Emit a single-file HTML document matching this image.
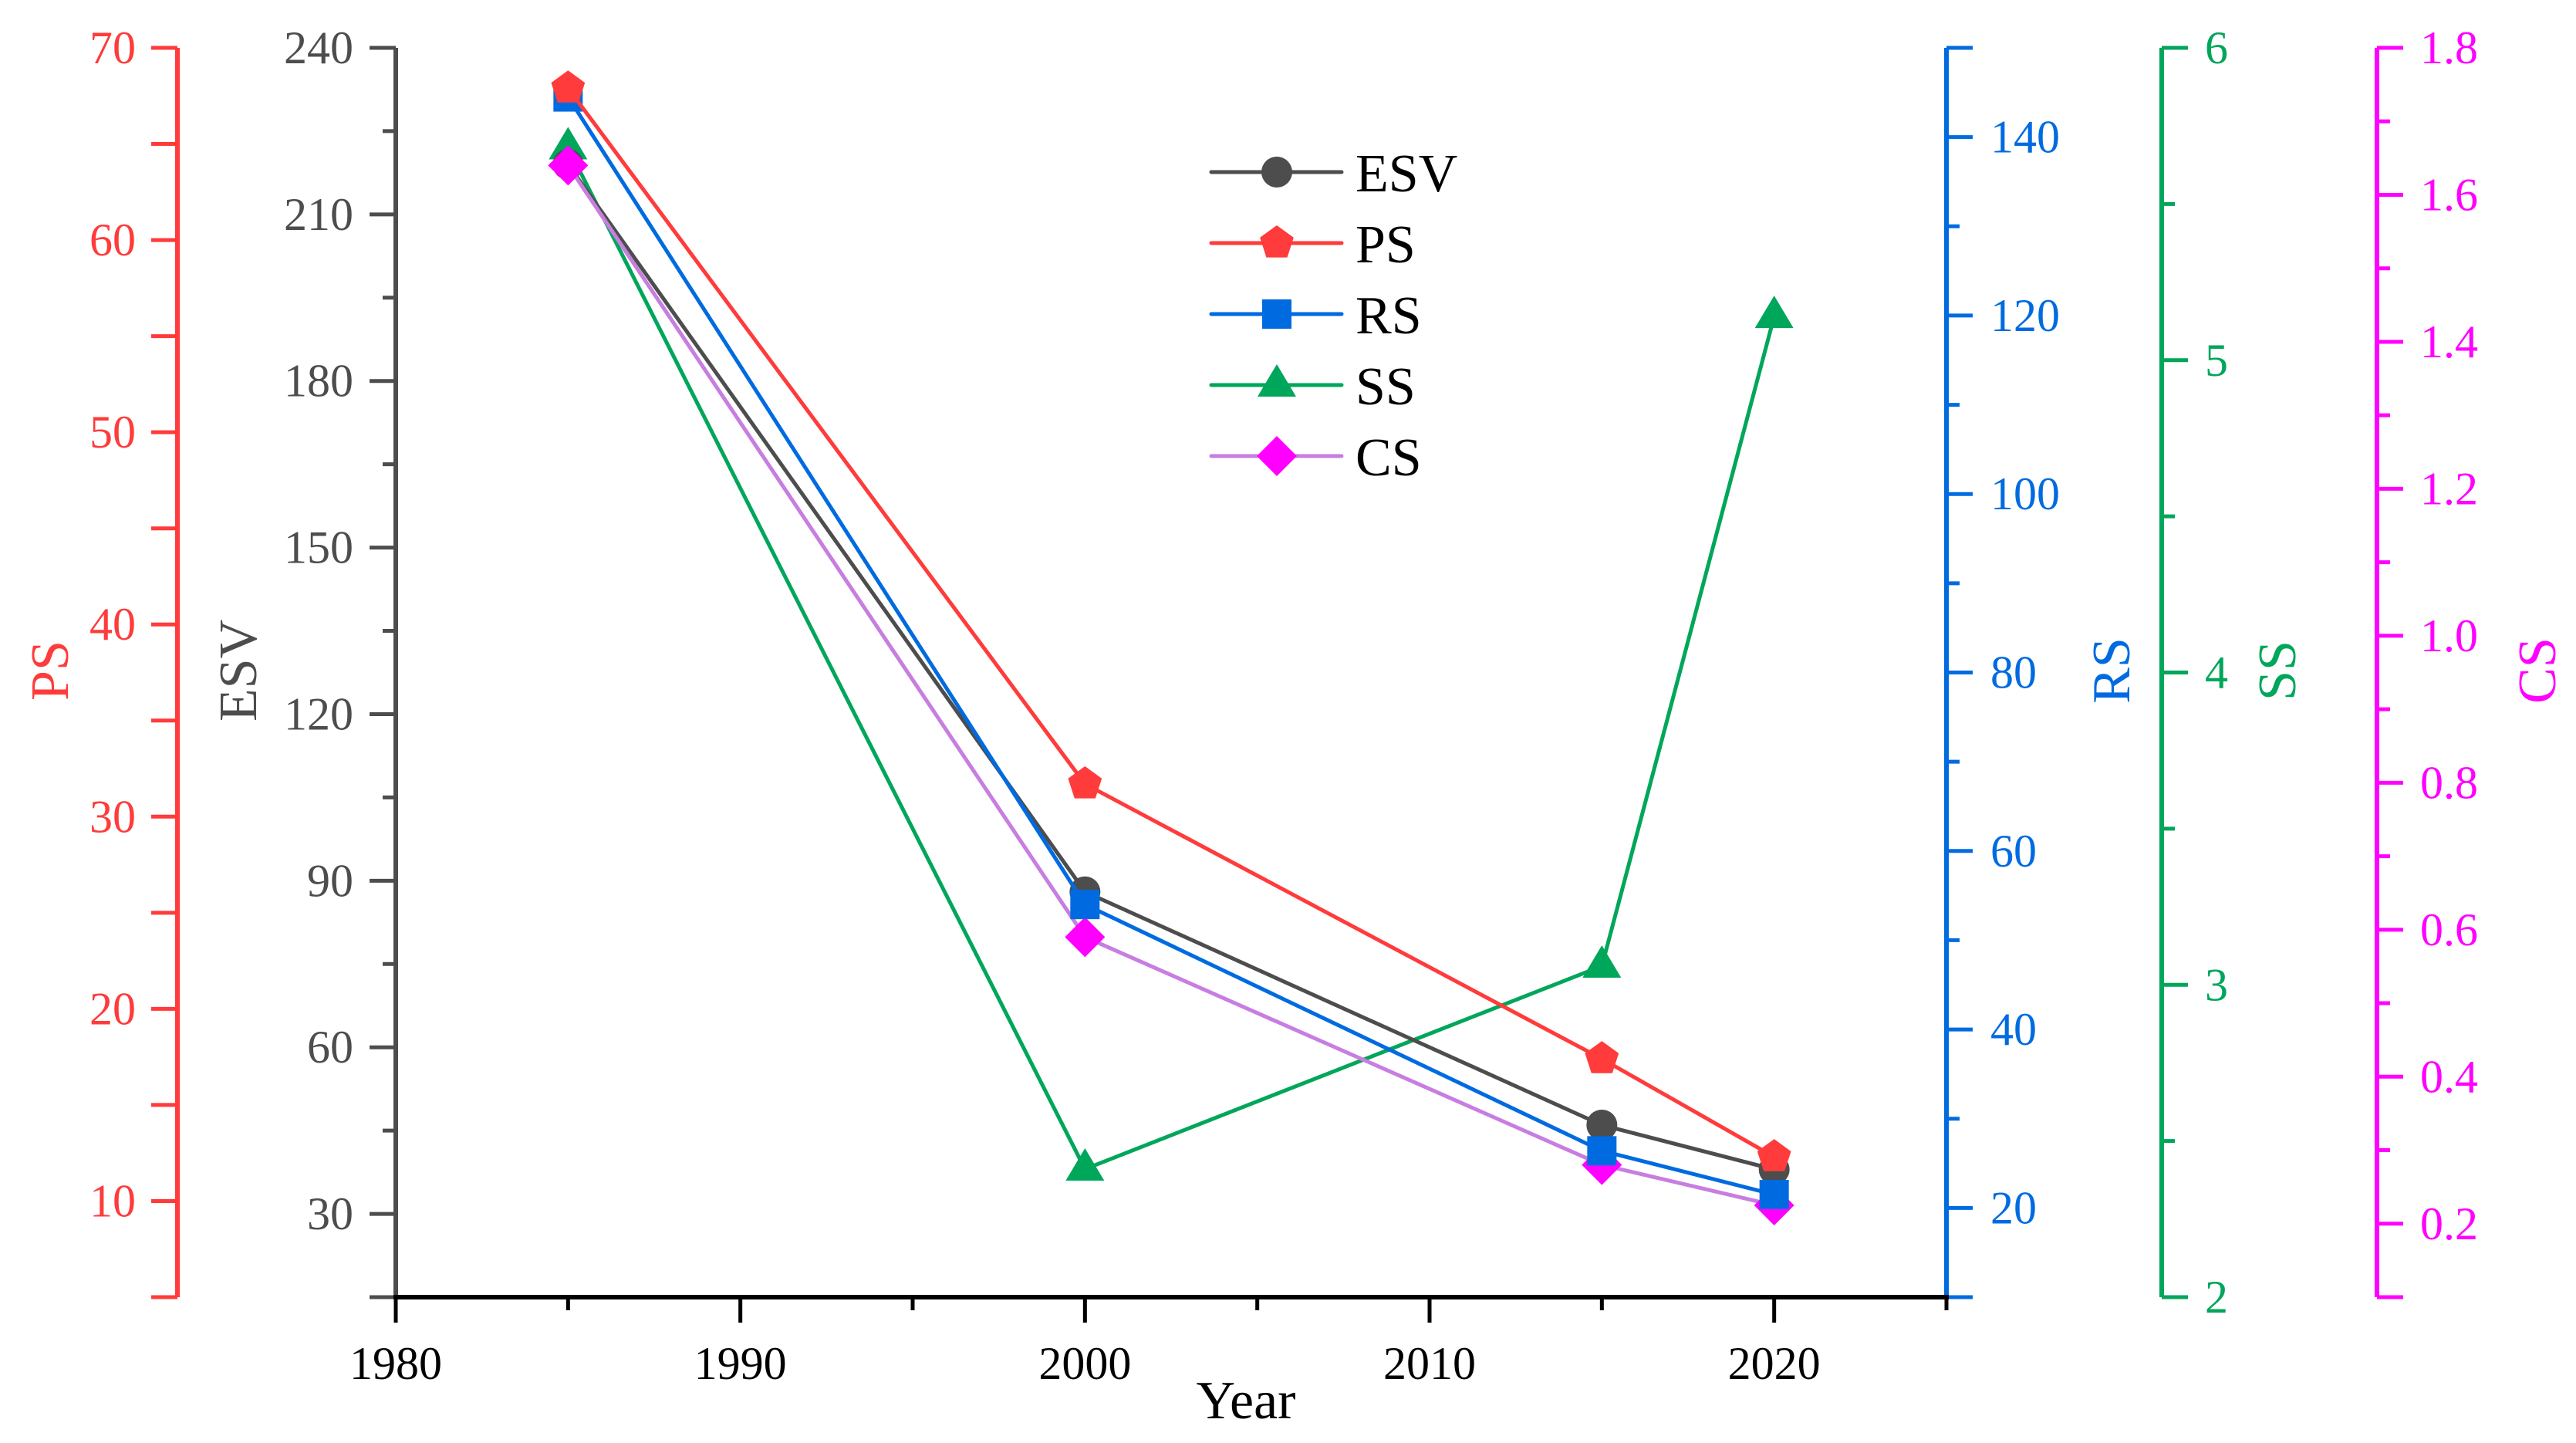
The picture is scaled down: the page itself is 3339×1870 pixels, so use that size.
<!DOCTYPE html>
<html><head><meta charset="utf-8"><style>
html,body{margin:0;padding:0;background:#fff;}
svg{display:block;font-family:"Liberation Serif",serif;}
</style></head><body>
<svg id="chart" width="3339" height="1870" viewBox="0 0 3339 1870" xmlns="http://www.w3.org/2000/svg"></svg>
<script>
const years = [1985, 2000, 2015, 2020];
const esvValues = [219, 88, 46, 38];
const psValues = [67.9, 31.7, 17.4, 12.3];
const rsValues = [144.5, 54, 26.4, 21.5];
const ssValues = [5.68, 2.41, 3.06, 5.14];
const csValues = [1.64, 0.59, 0.28, 0.225];
const xTicks = [1980, 1990, 2000, 2010, 2020];
const esvTicks = [30, 60, 90, 120, 150, 180, 210, 240];
const psTicks = [10, 20, 30, 40, 50, 60, 70];
const rsTicks = [20, 40, 60, 80, 100, 120, 140];
const ssTicks = [2, 3, 4, 5, 6];
const csTicks = [0.2, 0.4, 0.6, 0.8, 1.0, 1.2, 1.4, 1.6, 1.8];

const NS = "http://www.w3.org/2000/svg";
const svg = document.getElementById('chart');
const TOP = 62, BOT = 1681, X0 = 513, X1 = 2523;
function mk(tag, attrs, parent) {
  const e = document.createElementNS(NS, tag);
  for (const k in attrs) e.setAttribute(k, attrs[k]);
  (parent || svg).appendChild(e);
  return e;
}
const xScale = v => X0 + (v - 1980) / (2025 - 1980) * (X1 - X0);
function yScale(min, max) { return v => BOT - (v - min) / (max - min) * (BOT - TOP); }
const yESV = yScale(15, 240), yPS = yScale(5, 70), yRS = yScale(10, 150), ySS = yScale(2, 6), yCS = yScale(0.1, 1.8);

const C = {esv: '#4d4d4d', ps: '#ff3b3b', rs: '#006be0', ss: '#00a65a', csLine: '#c77ee0', cs: '#ff00ff'};

function axis(name, x, scale, ticks, minorStep, min, max, color, side, fmt, labelX, anchor, title, titleX) {
  const g = mk('g', {});
  
  
  mk('line', {x1: x, y1: TOP, x2: x, y2: BOT, stroke: color, 'stroke-width': 6}, g);
  const dir = side === 'left' ? -1 : 1;
  for (let v = min; v <= max + 1e-9; v += minorStep) {
    const y = scale(v);
    const isMajor = ticks.some(t => Math.abs(t - v) < 1e-6);
    const len = isMajor ? 34 : (name === 'ps-axis' ? 34 : 17);
    const t = mk('line', {x1: x, y1: y, x2: x + dir * len, y2: y, stroke: color, 'stroke-width': 5}, g);
    
    
  }
  mk('line', {x1: x, y1: TOP, x2: x + dir * 34, y2: TOP, stroke: color, 'stroke-width': 5}, g);
  mk('line', {x1: x, y1: BOT, x2: x + dir * 34, y2: BOT, stroke: color, 'stroke-width': 5}, g);
  ticks.forEach(v => {
    const t = mk('text', {x: labelX, y: scale(v) + 20, 'font-size': 60, fill: color, 'text-anchor': anchor}, g);
    t.textContent = fmt(v);
    
    
  });
  const tt = mk('text', {x: titleX, y: 869, 'font-size': 70, fill: color, 'text-anchor': 'middle', transform: `rotate(-90 ${titleX} 869)`}, g);
  tt.textContent = title;
  
  
}
axis('ps-axis', 230, yPS, psTicks, 5, 5, 70, C.ps, 'left', v => v, 176, 'end', 'PS', 88);
axis('esv-axis', 513, yESV, esvTicks, 15, 15, 240, C.esv, 'left', v => v, 458, 'end', 'ESV', 332);
axis('rs-axis', 2523, yRS, rsTicks, 10, 10, 150, C.rs, 'right', v => v, 2580, 'start', 'RS', 2760);
axis('ss-axis', 2802, ySS, ssTicks, 0.5, 2, 6, C.ss, 'right', v => v, 2858, 'start', 'SS', 2975);
axis('cs-axis', 3081, yCS, csTicks, 0.1, 0.1, 1.8, C.cs, 'right', v => v.toFixed(1), 3137, 'start', 'CS', 3312);

const xg = mk('g', {});


mk('line', {x1: X0 - 3, y1: BOT, x2: X1 + 3, y2: BOT, stroke: '#000', 'stroke-width': 6}, xg);
for (let v = 1980; v <= 2025; v += 5) {
  const major = v % 10 === 0;
  mk('line', {x1: xScale(v), y1: BOT, x2: xScale(v), y2: BOT + (major ? 33 : 17), stroke: '#000', 'stroke-width': 5}, xg);
}
xTicks.forEach(v => {
  const t = mk('text', {x: xScale(v), y: 1787, 'font-size': 60, 'text-anchor': 'middle', fill: '#000'}, xg);
  t.textContent = v;
  
  
});
const xt = mk('text', {x: 1615, y: 1838, 'font-size': 70, 'text-anchor': 'middle', fill: '#000'}, xg);
xt.textContent = 'Year';



function marker(type, cx, cy, color, parent) {
  let e;
  if (type === 'circle') e = mk('circle', {cx, cy, r: 20, fill: color}, parent);
  else if (type === 'square') e = mk('rect', {x: cx - 19, y: cy - 19, width: 38, height: 38, fill: color}, parent);
  else if (type === 'triangle') e = mk('polygon', {points: `${cx},${cy-27} ${cx+25},${cy+15} ${cx-25},${cy+15}`, fill: color}, parent);
  else if (type === 'diamond') e = mk('polygon', {points: `${cx},${cy-26} ${cx+26},${cy} ${cx},${cy+26} ${cx-26},${cy}`, fill: color}, parent);
  else {
    const pts = [];
    for (let i = 0; i < 5; i++) { const a = -Math.PI / 2 + i * 2 * Math.PI / 5; pts.push((cx + 23 * Math.cos(a)) + ',' + (cy + 23 * Math.sin(a))); }
    e = mk('polygon', {points: pts.join(' '), fill: color}, parent);
  }
  return e;
}
function series(name, vals, scale, lineColor, mColor, type) {
  const g = mk('g', {});
  
  
  const pts = years.map((y, i) => xScale(y) + ',' + scale(vals[i])).join(' ');
  const pl = mk('polyline', {points: pts, fill: 'none', stroke: lineColor, 'stroke-width': 5, 'stroke-linejoin': 'round'}, g);
  
  
  years.forEach((y, i) => {
    const m = marker(type, xScale(y), scale(vals[i]), mColor, g);
    
    
  });
}
series('ss', ssValues, ySS, C.ss, C.ss, 'triangle');
series('esv', esvValues, yESV, C.esv, C.esv, 'circle');
series('cs', csValues, yCS, C.csLine, C.cs, 'diamond');
series('rs', rsValues, yRS, C.rs, C.rs, 'square');
series('ps', psValues, yPS, C.ps, C.ps, 'pentagon');

const lg = mk('g', {});


const legendItems = [['ESV', C.esv, C.esv, 'circle'], ['PS', C.ps, C.ps, 'pentagon'], ['RS', C.rs, C.rs, 'square'], ['SS', C.ss, C.ss, 'triangle'], ['CS', C.csLine, C.cs, 'diamond']];
legendItems.forEach((it, i) => {
  const y = 223 + i * 92;
  const eg = mk('g', {}, lg);
  
  
  mk('line', {x1: 1570, y1: y, x2: 1739, y2: y, stroke: it[1], 'stroke-width': 5, 'stroke-linecap': 'round'}, eg);
  marker(it[3], 1655, y, it[2], eg);
  const t = mk('text', {x: 1757, y: y + 25, 'font-size': 70, fill: '#000'}, eg);
  t.textContent = it[0];
});
</script>
</body></html>
